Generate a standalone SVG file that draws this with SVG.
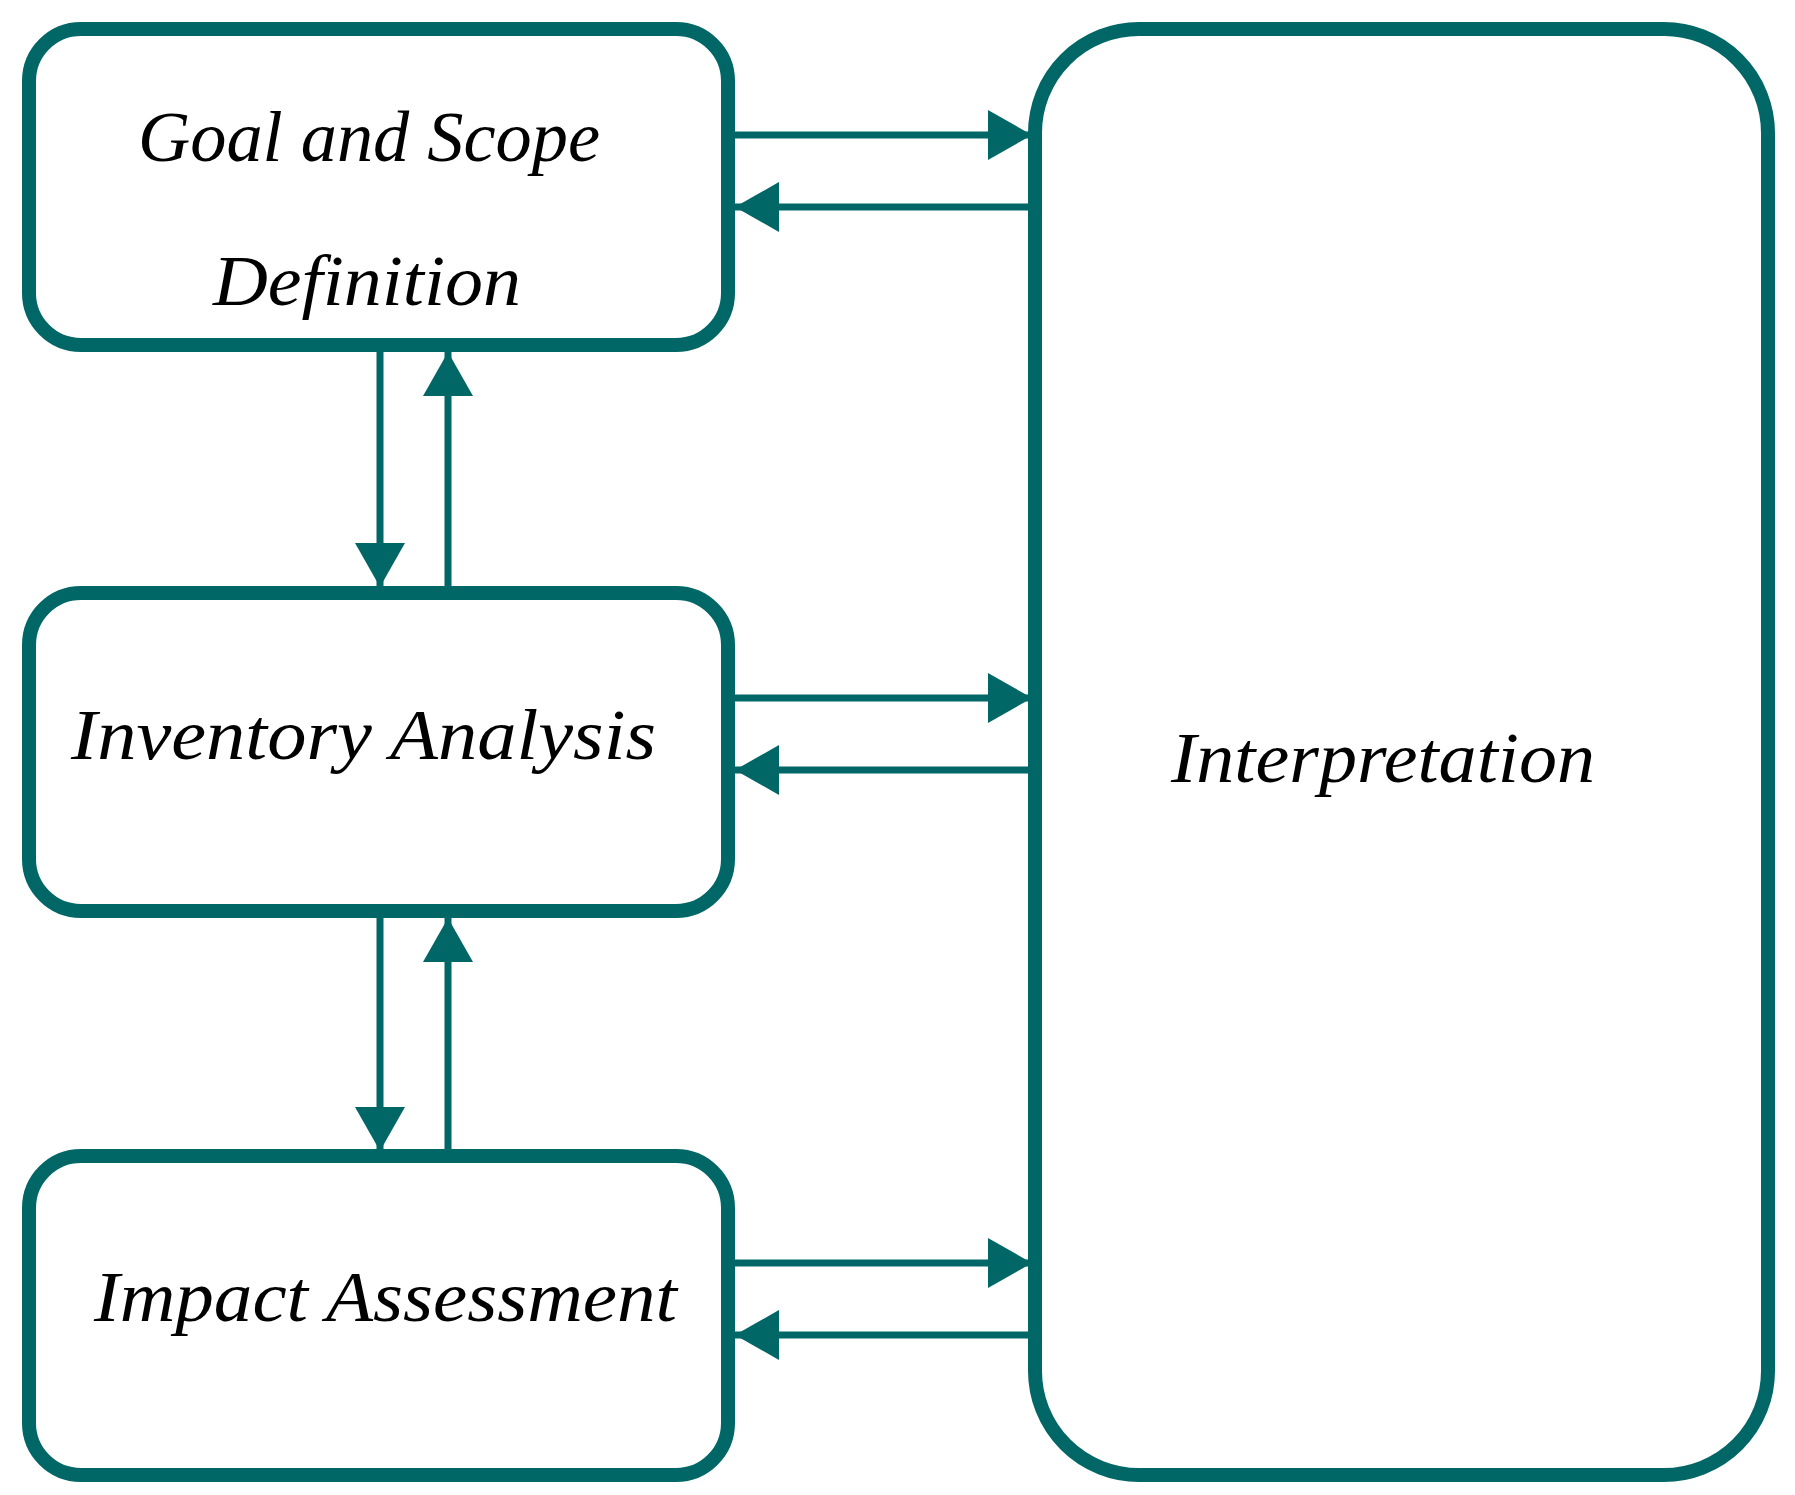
<svg xmlns="http://www.w3.org/2000/svg" width="1795" height="1495" viewBox="0 0 1795 1495">
<style>
.box{fill:#fff;stroke:#006666;stroke-width:14}
.ln{stroke:#006666;stroke-width:7;fill:none}
text{font-family:"Liberation Serif",serif;font-style:italic;font-size:72px;fill:#000}
</style>
<defs>
<marker id="ah" viewBox="0 0 44 50" refX="44" refY="25" markerWidth="44" markerHeight="50" markerUnits="userSpaceOnUse" orient="auto"><path d="M0,0L44,25L0,50Z" fill="#006666"/></marker>
</defs>
<rect width="1795" height="1495" fill="#fff"/>
<g id="goal"><rect class="box" x="29" y="29" width="699" height="316" rx="52"/>
<text x="138" y="161" textLength="462" lengthAdjust="spacingAndGlyphs">Goal and Scope</text>
<text x="213" y="305" textLength="308" lengthAdjust="spacingAndGlyphs">Definition</text></g>
<g id="inventory"><rect class="box" x="29" y="593" width="699" height="318" rx="52"/>
<text x="71" y="759" textLength="585" lengthAdjust="spacingAndGlyphs">Inventory Analysis</text></g>
<g id="impact"><rect class="box" x="29" y="1156" width="699" height="319" rx="52"/>
<text x="94" y="1321" textLength="583" lengthAdjust="spacingAndGlyphs">Impact Assessment</text></g>
<g id="interpretation"><rect class="box" x="1035" y="29" width="733" height="1446" rx="104"/>
<text x="1171" y="782" textLength="424" lengthAdjust="spacingAndGlyphs">Interpretation</text></g>
<g id="connectors">
<line class="ln" x1="735" y1="135" x2="1032" y2="135" marker-end="url(#ah)"/>
<line class="ln" x1="1032" y1="207" x2="735" y2="207" marker-end="url(#ah)"/>
<line class="ln" x1="735" y1="698" x2="1032" y2="698" marker-end="url(#ah)"/>
<line class="ln" x1="1032" y1="770" x2="735" y2="770" marker-end="url(#ah)"/>
<line class="ln" x1="735" y1="1263" x2="1032" y2="1263" marker-end="url(#ah)"/>
<line class="ln" x1="1032" y1="1335" x2="735" y2="1335" marker-end="url(#ah)"/>
<line class="ln" x1="380" y1="352" x2="380" y2="587" marker-end="url(#ah)"/>
<line class="ln" x1="448" y1="587" x2="448" y2="352" marker-end="url(#ah)"/>
<line class="ln" x1="380" y1="918" x2="380" y2="1151" marker-end="url(#ah)"/>
<line class="ln" x1="448" y1="1151" x2="448" y2="918" marker-end="url(#ah)"/>
</g>
</svg>
